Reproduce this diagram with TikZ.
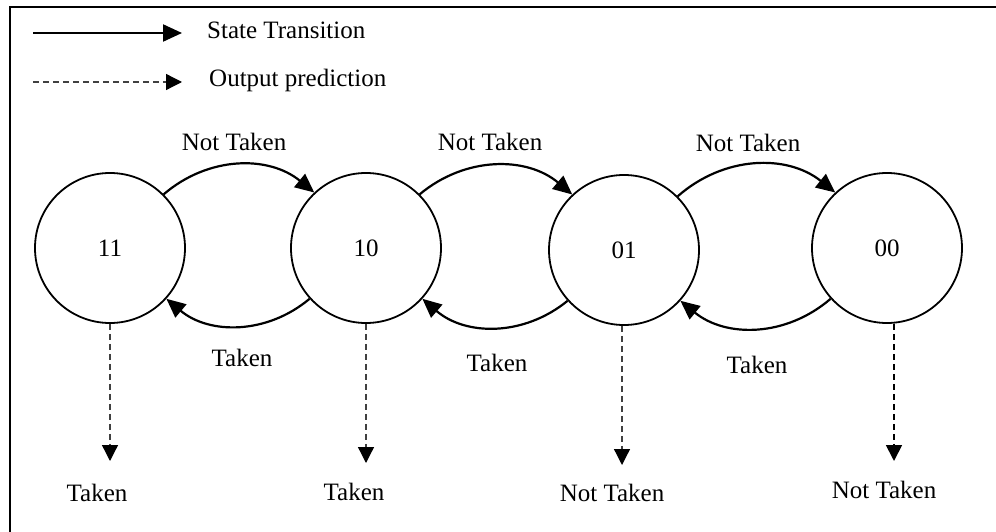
\documentclass[tikz,border=0pt]{standalone}
\usepackage{fontspec}
\setmainfont{Liberation Serif}
\usetikzlibrary{arrows.meta}
\begin{document}
\begin{tikzpicture}[x=1pt,y=1pt,
  font=\fontsize{25}{30}\selectfont,
  state/.style={draw, circle, line width=1.8pt, minimum size=150pt, inner sep=0pt},
  trans/.style={line width=2.2pt, -{Triangle[length=19pt,width=17pt]}},
  outpred/.style={line width=1.3pt, draw=black!75, dash pattern=on 6pt off 4pt,
                  -{Triangle[length=16pt,width=16pt,color=black]}},
  lbl/.style={inner sep=0pt}]
\useasboundingbox (0,0) rectangle (996,531);
% frame
\draw[line width=2.5pt] (10,-10) |- (1010,524);

% legend
\coordinate (l1a) at (33,498);
\coordinate (l1b) at (182,498);
\coordinate (l2a) at (33,449);
\coordinate (l2b) at (182,449);
\draw[trans] (l1a) -- (l1b);
\node[lbl, anchor=west] (lt1) at (207,501) {State Transition};
\draw[outpred] (l2a) -- (l2b);
\node[lbl, anchor=west] (lt2) at (209,451) {Output prediction};

% states
\node[state] (s11) at (110,283) {11};
\node[state] (s10) at (366,283) {10};
\node[state] (s01) at (624,281) {01};
\node[state] (s00) at (887,283) {00};

% not taken transitions
\draw[trans] (s11.45) to[bend left=40] (s10.133);
\draw[trans] (s10.45) to[bend left=40] (s01.133);
\draw[trans] (s01.45) to[bend left=40] (s00.133);
\node[lbl] (nt1) at (234,389) {Not Taken};
\node[lbl] (nt2) at (490,389) {Not Taken};
\node[lbl] (nt3) at (748,388) {Not Taken};

% taken transitions
\draw[trans] (s10.222) to[bend left=40] (s11.-42);
\draw[trans] (s01.222) to[bend left=40] (s10.-42);
\draw[trans] (s00.222) to[bend left=40] (s01.-42);
\node[lbl] (t1) at (242,173) {Taken};
\node[lbl] (t2) at (497,168) {Taken};
\node[lbl] (t3) at (757,166) {Taken};

% output predictions
\coordinate (p11) at (110,70);
\coordinate (p10) at (366,68);
\coordinate (p01) at (622,66);
\coordinate (p00) at (894,70);
\draw[outpred] (s11.south) -- (p11);
\draw[outpred] (s10.south) -- (p10);
\draw[outpred] (s01.south -| p01) -- (p01);
\draw[outpred, line width=1.8pt, draw=black] (s00.south -| p00) -- (p00);
\node[lbl] (o11) at (97,38) {Taken};
\node[lbl] (o10) at (354,39) {Taken};
\node[lbl] (o01) at (612,38) {Not Taken};
\node[lbl] (o00) at (884,41) {Not Taken};
\end{tikzpicture}
\end{document}
